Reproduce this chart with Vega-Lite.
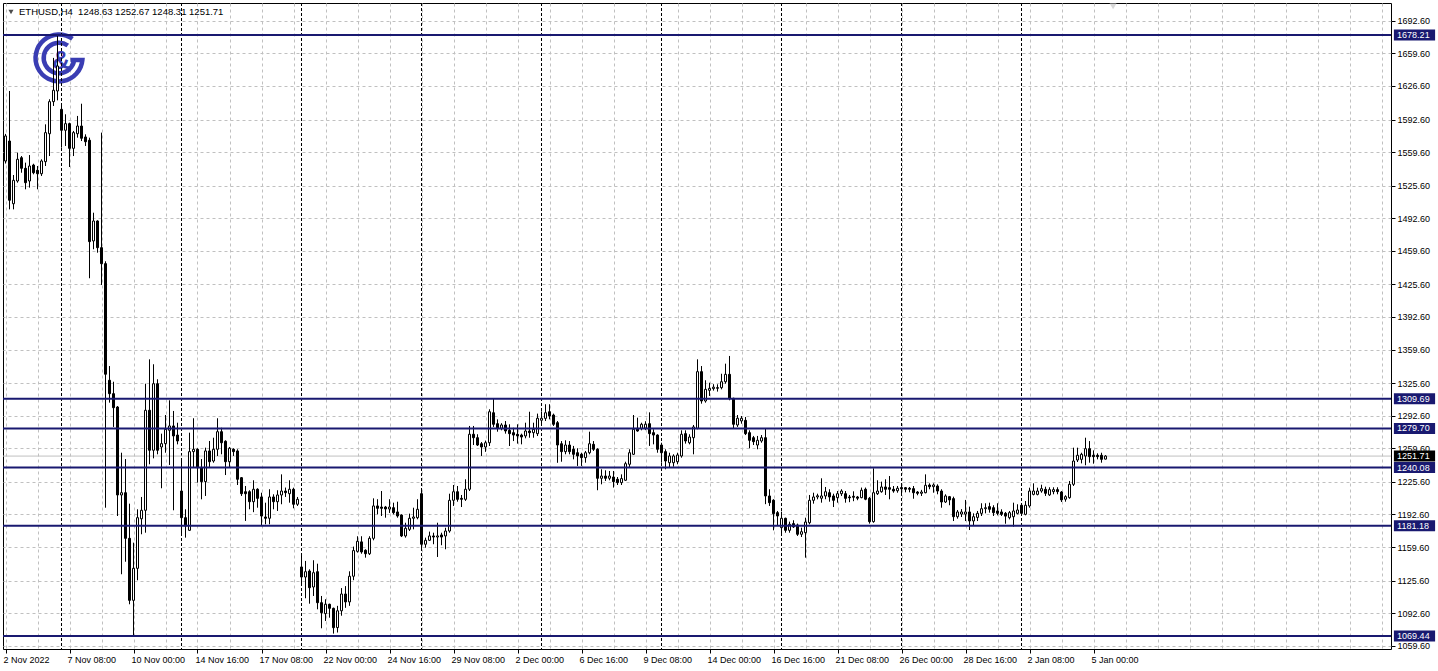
{
"$schema": "https://vega.github.io/schema/vega-lite/v6.json",
"width": 1388, "height": 646,
"padding": {"left": 2, "top": 2, "right": 0, "bottom": 0},
"background": "#ffffff",
"config": {"view": {"stroke": "#000000", "strokeWidth": 1}, "font": "Liberation Sans", "scale": {"continuousPadding": 0}, "axis": {"labelOverlap": false, "labelFlush": false, "title": null}},
"datasets": {
"candles": [
{"i":0,"o":1550.6,"h":1578,"l":1548,"c":1575.9},
{"i":1,"o":1570.8,"h":1621.5,"l":1501.6,"c":1510.8},
{"i":2,"o":1507.3,"h":1536.4,"l":1501.6,"c":1531.0},
{"i":3,"o":1530.3,"h":1559.0,"l":1528.6,"c":1552.3},
{"i":4,"o":1553.9,"h":1555.6,"l":1538.7,"c":1543.2},
{"i":5,"o":1543.2,"h":1548.9,"l":1521.9,"c":1528.6},
{"i":6,"o":1530.3,"h":1556.6,"l":1523.6,"c":1545.5},
{"i":7,"o":1546.5,"h":1547.8,"l":1537.1,"c":1538.7},
{"i":8,"o":1541.2,"h":1545.5,"l":1521.9,"c":1537.7},
{"i":9,"o":1537.7,"h":1552.3,"l":1535.4,"c":1550.6},
{"i":10,"o":1549.9,"h":1587.7,"l":1545.5,"c":1579.3},
{"i":11,"o":1578.2,"h":1613.1,"l":1555.6,"c":1610.7},
{"i":12,"o":1610.7,"h":1655.0,"l":1606.3,"c":1622.2},
{"i":13,"o":1621.5,"h":1678.2,"l":1612.0,"c":1646.8},
{"i":14,"o":1602.9,"h":1606.3,"l":1564.1,"c":1581.7},
{"i":15,"o":1581.7,"h":1597.9,"l":1565.8,"c":1588.4},
{"i":16,"o":1588.4,"h":1589.4,"l":1544.5,"c":1563.4},
{"i":17,"o":1563.4,"h":1581.0,"l":1555.6,"c":1579.3},
{"i":18,"o":1578.2,"h":1596.2,"l":1574.2,"c":1586.0},
{"i":19,"o":1586.0,"h":1608.6,"l":1570.8,"c":1573.6},
{"i":20,"o":1574.9,"h":1577.6,"l":1565.8,"c":1570.1},
{"i":21,"o":1571.6,"h":1574.2,"l":1431.8,"c":1468.9},
{"i":22,"o":1469.6,"h":1498.2,"l":1461.2,"c":1489.8},
{"i":23,"o":1489.8,"h":1490.5,"l":1457.7,"c":1462.8},
{"i":24,"o":1462.8,"h":1579.3,"l":1425.0,"c":1446.6},
{"i":25,"o":1446.6,"h":1449.0,"l":1199.4,"c":1334.6},
{"i":26,"o":1328.5,"h":1342.9,"l":1305.8,"c":1314.9},
{"i":27,"o":1314.9,"h":1327.0,"l":1281.2,"c":1300.7},
{"i":28,"o":1301.4,"h":1302.4,"l":1191.0,"c":1212.3},
{"i":29,"o":1212.3,"h":1255.1,"l":1132.0,"c":1214.6},
{"i":30,"o":1214.6,"h":1248.7,"l":1144.7,"c":1168.4},
{"i":31,"o":1168.4,"h":1203.5,"l":1101.6,"c":1105.6},
{"i":32,"o":1105.6,"h":1164.0,"l":1069.5,"c":1138.0},
{"i":33,"o":1138.0,"h":1197.8,"l":1125.9,"c":1189.3},
{"i":34,"o":1188.2,"h":1210.3,"l":1172.5,"c":1196.8},
{"i":35,"o":1196.8,"h":1325.0,"l":1174.1,"c":1298.1},
{"i":36,"o":1298.1,"h":1349.7,"l":1243.4,"c":1257.6},
{"i":37,"o":1257.6,"h":1344.7,"l":1249.4,"c":1325.0},
{"i":38,"o":1325.0,"h":1329.5,"l":1253.5,"c":1257.6},
{"i":39,"o":1260.9,"h":1274.4,"l":1219.1,"c":1264.3},
{"i":40,"o":1264.3,"h":1293.3,"l":1255.1,"c":1278.8},
{"i":41,"o":1277.8,"h":1308.2,"l":1242.7,"c":1282.2},
{"i":42,"o":1282.2,"h":1297.4,"l":1196.8,"c":1272.1},
{"i":43,"o":1273.0,"h":1285.5,"l":1263.6,"c":1267.0},
{"i":44,"o":1216.3,"h":1246.7,"l":1172.5,"c":1189.3},
{"i":45,"o":1189.3,"h":1197.8,"l":1169.1,"c":1180.9},
{"i":46,"o":1176.5,"h":1275.4,"l":1175.8,"c":1256.2},
{"i":47,"o":1256.2,"h":1290.0,"l":1240.7,"c":1258.6},
{"i":48,"o":1258.6,"h":1259.6,"l":1224.8,"c":1239.9},
{"i":49,"o":1239.9,"h":1248.7,"l":1207.9,"c":1225.8},
{"i":50,"o":1225.8,"h":1260.2,"l":1211.3,"c":1256.9},
{"i":51,"o":1256.9,"h":1267.0,"l":1240.7,"c":1246.0},
{"i":52,"o":1246.7,"h":1270.3,"l":1245.0,"c":1258.6},
{"i":53,"o":1258.6,"h":1290.0,"l":1251.8,"c":1276.4},
{"i":54,"o":1276.4,"h":1280.4,"l":1253.5,"c":1265.2},
{"i":55,"o":1266.7,"h":1267.7,"l":1232.5,"c":1246.0},
{"i":56,"o":1246.0,"h":1260.9,"l":1240.7,"c":1259.6},
{"i":57,"o":1258.6,"h":1259.6,"l":1251.8,"c":1256.2},
{"i":58,"o":1256.9,"h":1258.6,"l":1222.4,"c":1228.2},
{"i":59,"o":1229.8,"h":1230.5,"l":1211.3,"c":1213.6},
{"i":60,"o":1215.6,"h":1221.4,"l":1186.0,"c":1213.6},
{"i":61,"o":1215.6,"h":1217.1,"l":1197.8,"c":1205.5},
{"i":62,"o":1205.5,"h":1227.2,"l":1194.9,"c":1218.1},
{"i":63,"o":1218.1,"h":1219.1,"l":1199.4,"c":1208.9},
{"i":64,"o":1210.3,"h":1214.6,"l":1180.9,"c":1191.0},
{"i":65,"o":1190.0,"h":1204.5,"l":1182.6,"c":1188.7},
{"i":66,"o":1188.7,"h":1218.1,"l":1182.6,"c":1210.3},
{"i":67,"o":1210.3,"h":1213.0,"l":1197.8,"c":1205.5},
{"i":68,"o":1205.5,"h":1217.1,"l":1196.1,"c":1212.3},
{"i":69,"o":1212.3,"h":1233.2,"l":1202.9,"c":1216.3},
{"i":70,"o":1216.3,"h":1219.8,"l":1210.3,"c":1214.6},
{"i":71,"o":1213.6,"h":1227.2,"l":1204.5,"c":1218.1},
{"i":72,"o":1218.1,"h":1219.7,"l":1198.8,"c":1202.9},
{"i":73,"o":1202.9,"h":1210.3,"l":1201.2,"c":1207.9},
{"i":74,"o":1139.4,"h":1152.8,"l":1121.8,"c":1129.2},
{"i":75,"o":1129.2,"h":1145.5,"l":1107.7,"c":1134.6},
{"i":76,"o":1135.3,"h":1137.0,"l":1102.2,"c":1118.4},
{"i":77,"o":1119.1,"h":1146.2,"l":1110.0,"c":1133.6},
{"i":78,"o":1134.6,"h":1142.7,"l":1096.5,"c":1103.2},
{"i":79,"o":1103.2,"h":1110.0,"l":1077.3,"c":1093.1},
{"i":80,"o":1092.1,"h":1106.7,"l":1084.7,"c":1101.6},
{"i":81,"o":1101.6,"h":1102.2,"l":1088.0,"c":1097.5},
{"i":82,"o":1097.5,"h":1098.2,"l":1071.9,"c":1077.9},
{"i":83,"o":1078.0,"h":1100.0,"l":1073.0,"c":1095.0},
{"i":84,"o":1095.0,"h":1118.0,"l":1090.0,"c":1112.0},
{"i":85,"o":1112.0,"h":1120.0,"l":1098.0,"c":1104.0},
{"i":86,"o":1104.0,"h":1135.0,"l":1100.0,"c":1130.0},
{"i":87,"o":1130.0,"h":1160.0,"l":1126.0,"c":1156.0},
{"i":88,"o":1155.2,"h":1170.5,"l":1153.9,"c":1165.4},
{"i":89,"o":1164.8,"h":1170.5,"l":1152.8,"c":1154.6},
{"i":90,"o":1156.3,"h":1157.3,"l":1148.8,"c":1152.8},
{"i":91,"o":1152.8,"h":1170.5,"l":1151.5,"c":1168.4},
{"i":92,"o":1168.4,"h":1208.9,"l":1166.4,"c":1201.2},
{"i":93,"o":1201.2,"h":1208.0,"l":1192.7,"c":1198.8},
{"i":94,"o":1200.1,"h":1216.3,"l":1191.0,"c":1198.8},
{"i":95,"o":1200.1,"h":1201.2,"l":1189.3,"c":1198.1},
{"i":96,"o":1198.1,"h":1208.0,"l":1194.1,"c":1200.1},
{"i":97,"o":1199.4,"h":1204.5,"l":1192.7,"c":1194.4},
{"i":98,"o":1195.1,"h":1205.5,"l":1189.3,"c":1191.0},
{"i":99,"o":1192.0,"h":1192.7,"l":1169.7,"c":1170.8},
{"i":100,"o":1170.8,"h":1184.2,"l":1169.1,"c":1178.6},
{"i":101,"o":1177.5,"h":1193.4,"l":1175.8,"c":1188.7},
{"i":102,"o":1188.7,"h":1199.4,"l":1177.5,"c":1190.0},
{"i":103,"o":1189.3,"h":1208.0,"l":1187.7,"c":1197.8},
{"i":104,"o":1213.6,"h":1218.1,"l":1155.6,"c":1162.4},
{"i":105,"o":1162.4,"h":1169.1,"l":1158.9,"c":1166.4},
{"i":106,"o":1166.4,"h":1175.2,"l":1165.7,"c":1170.8},
{"i":107,"o":1170.8,"h":1174.1,"l":1162.4,"c":1169.7},
{"i":108,"o":1169.7,"h":1184.2,"l":1149.5,"c":1170.8},
{"i":109,"o":1171.8,"h":1174.1,"l":1161.4,"c":1169.7},
{"i":110,"o":1170.8,"h":1179.1,"l":1157.3,"c":1175.8},
{"i":111,"o":1175.8,"h":1213.6,"l":1174.1,"c":1206.9},
{"i":112,"o":1206.9,"h":1222.4,"l":1201.2,"c":1215.6},
{"i":113,"o":1215.6,"h":1221.4,"l":1205.5,"c":1207.9},
{"i":114,"o":1208.9,"h":1212.3,"l":1200.1,"c":1207.9},
{"i":115,"o":1207.9,"h":1228.2,"l":1206.3,"c":1218.1},
{"i":116,"o":1218.1,"h":1282.2,"l":1216.3,"c":1273.8},
{"i":117,"o":1273.8,"h":1282.2,"l":1262.9,"c":1270.3},
{"i":118,"o":1270.3,"h":1273.8,"l":1261.9,"c":1262.9},
{"i":119,"o":1264.2,"h":1265.9,"l":1251.8,"c":1260.9},
{"i":120,"o":1260.9,"h":1267.4,"l":1256.0,"c":1265.2},
{"i":121,"o":1265.2,"h":1299.1,"l":1261.9,"c":1296.6},
{"i":122,"o":1295.6,"h":1310.2,"l":1281.2,"c":1283.9},
{"i":123,"o":1284.5,"h":1288.9,"l":1276.4,"c":1279.8},
{"i":124,"o":1279.8,"h":1285.0,"l":1277.8,"c":1283.2},
{"i":125,"o":1283.2,"h":1287.2,"l":1274.4,"c":1277.1},
{"i":126,"o":1277.8,"h":1283.9,"l":1261.9,"c":1274.4},
{"i":127,"o":1275.4,"h":1280.4,"l":1266.9,"c":1273.0},
{"i":128,"o":1273.8,"h":1283.9,"l":1264.3,"c":1272.1},
{"i":129,"o":1273.0,"h":1274.4,"l":1263.6,"c":1271.0},
{"i":130,"o":1272.1,"h":1285.5,"l":1269.7,"c":1277.1},
{"i":131,"o":1277.1,"h":1296.6,"l":1270.3,"c":1275.4},
{"i":132,"o":1275.4,"h":1285.5,"l":1270.3,"c":1278.8},
{"i":133,"o":1274.4,"h":1294.7,"l":1272.0,"c":1290.0},
{"i":134,"o":1288.0,"h":1297.0,"l":1283.0,"c":1290.0},
{"i":135,"o":1289.9,"h":1304.2,"l":1287.2,"c":1295.6},
{"i":136,"o":1296.6,"h":1304.2,"l":1288.9,"c":1292.3},
{"i":137,"o":1293.3,"h":1294.7,"l":1282.2,"c":1283.9},
{"i":138,"o":1285.5,"h":1287.2,"l":1244.9,"c":1262.9},
{"i":139,"o":1264.2,"h":1266.9,"l":1246.0,"c":1256.2},
{"i":140,"o":1256.2,"h":1267.7,"l":1253.5,"c":1262.9},
{"i":141,"o":1262.9,"h":1266.9,"l":1253.5,"c":1256.2},
{"i":142,"o":1258.6,"h":1262.0,"l":1248.4,"c":1253.5},
{"i":143,"o":1255.1,"h":1259.6,"l":1241.7,"c":1251.8},
{"i":144,"o":1253.5,"h":1255.1,"l":1241.7,"c":1250.1},
{"i":145,"o":1250.1,"h":1256.9,"l":1245.0,"c":1255.1},
{"i":146,"o":1255.1,"h":1276.4,"l":1253.5,"c":1264.2},
{"i":147,"o":1263.6,"h":1266.9,"l":1256.9,"c":1258.6},
{"i":148,"o":1258.6,"h":1259.6,"l":1217.1,"c":1229.2},
{"i":149,"o":1229.2,"h":1238.3,"l":1223.1,"c":1231.5},
{"i":150,"o":1231.5,"h":1237.3,"l":1226.5,"c":1229.2},
{"i":151,"o":1229.2,"h":1236.6,"l":1227.2,"c":1231.5},
{"i":152,"o":1230.5,"h":1236.6,"l":1219.8,"c":1225.8},
{"i":153,"o":1228.2,"h":1230.5,"l":1222.4,"c":1224.8},
{"i":154,"o":1224.8,"h":1233.2,"l":1222.4,"c":1228.9},
{"i":155,"o":1227.2,"h":1246.0,"l":1226.5,"c":1244.0},
{"i":156,"o":1243.4,"h":1258.6,"l":1239.9,"c":1255.1},
{"i":157,"o":1253.5,"h":1293.3,"l":1252.8,"c":1278.8},
{"i":158,"o":1279.8,"h":1290.6,"l":1276.4,"c":1277.1},
{"i":159,"o":1279.8,"h":1285.5,"l":1277.8,"c":1283.9},
{"i":160,"o":1280.0,"h":1287.0,"l":1278.0,"c":1284.0},
{"i":161,"o":1284.5,"h":1296.0,"l":1262.0,"c":1274.4},
{"i":162,"o":1275.4,"h":1278.8,"l":1263.6,"c":1273.0},
{"i":163,"o":1273.0,"h":1273.8,"l":1255.1,"c":1258.6},
{"i":164,"o":1262.9,"h":1265.2,"l":1245.0,"c":1255.1},
{"i":165,"o":1256.2,"h":1258.6,"l":1238.3,"c":1246.7},
{"i":166,"o":1245.0,"h":1255.1,"l":1240.0,"c":1251.8},
{"i":167,"o":1245.0,"h":1253.5,"l":1241.0,"c":1251.8},
{"i":168,"o":1246.0,"h":1255.1,"l":1243.4,"c":1252.8},
{"i":169,"o":1251.8,"h":1277.8,"l":1250.1,"c":1273.8},
{"i":170,"o":1274.4,"h":1277.8,"l":1264.3,"c":1267.0},
{"i":171,"o":1265.2,"h":1273.8,"l":1263.6,"c":1271.0},
{"i":172,"o":1270.3,"h":1283.2,"l":1253.5,"c":1281.2},
{"i":173,"o":1279.8,"h":1349.7,"l":1278.8,"c":1337.2},
{"i":174,"o":1337.2,"h":1342.9,"l":1304.8,"c":1307.5},
{"i":175,"o":1307.5,"h":1328.5,"l":1305.8,"c":1319.3},
{"i":176,"o":1318.3,"h":1326.0,"l":1312.6,"c":1320.3},
{"i":177,"o":1320.0,"h":1324.5,"l":1318.0,"c":1321.5},
{"i":178,"o":1321.0,"h":1324.4,"l":1317.0,"c":1320.4},
{"i":179,"o":1321.0,"h":1335.1,"l":1319.3,"c":1327.0},
{"i":180,"o":1327.0,"h":1345.3,"l":1325.0,"c":1334.5},
{"i":181,"o":1334.5,"h":1353.1,"l":1308.2,"c":1310.2},
{"i":182,"o":1310.2,"h":1310.8,"l":1279.8,"c":1283.9},
{"i":183,"o":1283.2,"h":1293.3,"l":1281.2,"c":1290.0},
{"i":184,"o":1287.3,"h":1292.3,"l":1284.5,"c":1290.0},
{"i":185,"o":1287.9,"h":1291.3,"l":1273.0,"c":1274.4},
{"i":186,"o":1275.4,"h":1277.8,"l":1259.6,"c":1267.7},
{"i":187,"o":1270.3,"h":1272.1,"l":1262.9,"c":1266.3},
{"i":188,"o":1262.9,"h":1272.1,"l":1258.6,"c":1267.7},
{"i":189,"o":1267.0,"h":1273.0,"l":1265.2,"c":1270.3},
{"i":190,"o":1270.3,"h":1279.8,"l":1203.0,"c":1211.3},
{"i":191,"o":1211.3,"h":1218.1,"l":1201.2,"c":1204.5},
{"i":192,"o":1207.0,"h":1208.0,"l":1176.5,"c":1193.4},
{"i":193,"o":1194.4,"h":1196.1,"l":1180.9,"c":1191.0},
{"i":194,"o":1179.2,"h":1195.4,"l":1170.8,"c":1188.7},
{"i":195,"o":1188.7,"h":1189.3,"l":1174.1,"c":1176.5},
{"i":196,"o":1176.5,"h":1185.3,"l":1174.1,"c":1182.6},
{"i":197,"o":1183.3,"h":1186.7,"l":1178.9,"c":1179.9},
{"i":198,"o":1181.9,"h":1183.3,"l":1170.8,"c":1172.5},
{"i":199,"o":1172.5,"h":1179.2,"l":1169.7,"c":1175.1},
{"i":200,"o":1174.1,"h":1189.3,"l":1148.8,"c":1184.9},
{"i":201,"o":1184.2,"h":1212.3,"l":1182.6,"c":1206.9},
{"i":202,"o":1206.9,"h":1214.6,"l":1203.5,"c":1210.3},
{"i":203,"o":1210.3,"h":1213.6,"l":1207.9,"c":1211.5},
{"i":204,"o":1209.0,"h":1229.2,"l":1204.5,"c":1211.3},
{"i":205,"o":1211.3,"h":1220.4,"l":1208.0,"c":1215.6},
{"i":206,"o":1214.6,"h":1218.1,"l":1205.5,"c":1210.3},
{"i":207,"o":1211.3,"h":1213.6,"l":1200.1,"c":1206.9},
{"i":208,"o":1209.6,"h":1216.3,"l":1204.5,"c":1213.6},
{"i":209,"o":1213.6,"h":1218.1,"l":1211.3,"c":1216.3},
{"i":210,"o":1213.6,"h":1216.3,"l":1204.5,"c":1208.9},
{"i":211,"o":1210.3,"h":1212.3,"l":1205.0,"c":1209.5},
{"i":212,"o":1211.0,"h":1216.0,"l":1206.0,"c":1210.0},
{"i":213,"o":1210.3,"h":1211.3,"l":1207.0,"c":1209.0},
{"i":214,"o":1209.6,"h":1219.8,"l":1209.0,"c":1217.1},
{"i":215,"o":1218.1,"h":1219.8,"l":1207.0,"c":1208.0},
{"i":216,"o":1208.9,"h":1210.3,"l":1183.3,"c":1185.3},
{"i":217,"o":1185.3,"h":1239.3,"l":1184.2,"c":1214.6},
{"i":218,"o":1213.6,"h":1227.2,"l":1212.3,"c":1216.3},
{"i":219,"o":1215.6,"h":1225.8,"l":1214.6,"c":1220.4},
{"i":220,"o":1220.4,"h":1228.2,"l":1212.3,"c":1218.1},
{"i":221,"o":1219.7,"h":1231.5,"l":1207.9,"c":1218.1},
{"i":222,"o":1218.1,"h":1221.4,"l":1214.6,"c":1216.3},
{"i":223,"o":1216.6,"h":1221.4,"l":1214.6,"c":1219.1},
{"i":224,"o":1219.8,"h":1221.4,"l":1212.3,"c":1218.5},
{"i":225,"o":1219.7,"h":1220.4,"l":1215.0,"c":1218.1},
{"i":226,"o":1219.1,"h":1220.4,"l":1215.0,"c":1218.1},
{"i":227,"o":1218.7,"h":1221.4,"l":1208.5,"c":1214.6},
{"i":228,"o":1215.3,"h":1216.3,"l":1212.0,"c":1214.0},
{"i":229,"o":1214.0,"h":1217.5,"l":1211.3,"c":1215.3},
{"i":230,"o":1214.6,"h":1233.2,"l":1214.0,"c":1222.1},
{"i":231,"o":1222.4,"h":1224.1,"l":1218.1,"c":1220.7},
{"i":232,"o":1220.7,"h":1224.1,"l":1214.6,"c":1222.4},
{"i":233,"o":1221.4,"h":1223.1,"l":1213.0,"c":1216.3},
{"i":234,"o":1216.3,"h":1218.1,"l":1199.4,"c":1205.2},
{"i":235,"o":1205.2,"h":1213.0,"l":1204.2,"c":1211.3},
{"i":236,"o":1210.6,"h":1211.3,"l":1201.9,"c":1207.3},
{"i":237,"o":1208.6,"h":1210.6,"l":1185.9,"c":1190.3},
{"i":238,"o":1190.3,"h":1197.1,"l":1188.3,"c":1195.1},
{"i":239,"o":1193.0,"h":1198.0,"l":1190.0,"c":1195.1},
{"i":240,"o":1193.0,"h":1207.3,"l":1185.9,"c":1195.1},
{"i":241,"o":1195.1,"h":1200.5,"l":1176.8,"c":1186.0},
{"i":242,"o":1186.0,"h":1193.7,"l":1180.9,"c":1190.3},
{"i":243,"o":1189.6,"h":1196.1,"l":1185.9,"c":1193.7},
{"i":244,"o":1193.7,"h":1203.9,"l":1191.0,"c":1198.4},
{"i":245,"o":1198.4,"h":1203.9,"l":1193.7,"c":1199.4},
{"i":246,"o":1200.5,"h":1204.5,"l":1194.4,"c":1197.8},
{"i":247,"o":1199.4,"h":1201.9,"l":1191.0,"c":1194.4},
{"i":248,"o":1196.1,"h":1203.9,"l":1191.7,"c":1193.7},
{"i":249,"o":1195.1,"h":1197.8,"l":1191.0,"c":1192.7},
{"i":250,"o":1193.7,"h":1195.1,"l":1183.2,"c":1190.9},
{"i":251,"o":1189.3,"h":1196.1,"l":1187.6,"c":1194.4},
{"i":252,"o":1190.3,"h":1204.5,"l":1180.2,"c":1196.1},
{"i":253,"o":1193.7,"h":1202.9,"l":1192.7,"c":1197.1},
{"i":254,"o":1201.9,"h":1203.9,"l":1192.7,"c":1193.7},
{"i":255,"o":1192.7,"h":1206.2,"l":1191.7,"c":1201.9},
{"i":256,"o":1201.2,"h":1219.7,"l":1199.4,"c":1216.3},
{"i":257,"o":1212.9,"h":1224.1,"l":1211.9,"c":1216.3},
{"i":258,"o":1212.9,"h":1219.7,"l":1211.9,"c":1216.3},
{"i":259,"o":1216.3,"h":1222.7,"l":1214.6,"c":1218.7},
{"i":260,"o":1218.0,"h":1220.7,"l":1211.3,"c":1214.0},
{"i":261,"o":1212.4,"h":1220.1,"l":1211.3,"c":1217.7},
{"i":262,"o":1215.7,"h":1220.1,"l":1213.0,"c":1217.7},
{"i":263,"o":1217.7,"h":1220.1,"l":1213.0,"c":1215.7},
{"i":264,"o":1215.3,"h":1216.3,"l":1205.2,"c":1207.3},
{"i":265,"o":1208.0,"h":1212.0,"l":1205.5,"c":1210.6},
{"i":266,"o":1209.6,"h":1226.5,"l":1208.5,"c":1223.1},
{"i":267,"o":1223.1,"h":1260.2,"l":1221.4,"c":1246.7},
{"i":268,"o":1247.7,"h":1260.2,"l":1245.7,"c":1252.5},
{"i":269,"o":1248.4,"h":1255.1,"l":1244.3,"c":1253.5},
{"i":270,"o":1251.8,"h":1270.3,"l":1242.4,"c":1259.2},
{"i":271,"o":1259.2,"h":1266.9,"l":1245.0,"c":1251.1},
{"i":272,"o":1252.5,"h":1257.5,"l":1244.0,"c":1251.1},
{"i":273,"o":1252.5,"h":1254.5,"l":1248.4,"c":1251.1},
{"i":274,"o":1252.5,"h":1255.1,"l":1245.0,"c":1248.4},
{"i":275,"o":1248.63,"h":1252.67,"l":1248.31,"c":1251.71}
],
"levels": [{"p":1678.21},{"p":1309.69},{"p":1279.70},{"p":1240.08},{"p":1181.18},{"p":1069.44}],
"bid": [{"p":1251.71}],
"seps": [{"i":14},{"i":44},{"i":74},{"i":104},{"i":134},{"i":164},{"i":194},{"i":224},{"i":254}]
},
"layer": [
{"data":{"name":"candles"},
 "mark":{"type":"rule","stroke":"#000000","strokeWidth":1,"opacity":0},
 "encoding":{
  "x":{"field":"i","type":"quantitative","scale":{"domain":[-0.625,346.375],"nice":false,"zero":false,"padding":0},
       "axis":{"title":null,"domain":false,"tickCount":200,"values":[0,8,16,24,32,40,48,56,64,72,80,88,96,104,112,120,128,136,144,152,160,168,176,184,192,200,208,216,224,232,240,248,256,264,272,280,288,296,304,312,320,328,336,344],
               "grid":true,"gridColor":"#c0c0c0","gridDash":[3,3],"gridWidth":1,
               "ticks":true,"tickSize":4,"tickColor":"#000000","tickWidth":1,
               "tickOpacity":{"condition":{"test":"datum.value % 16 === 0 && datum.value <= 272","value":1},"value":0},
               "labelExpr":"(datum.value % 16 === 0 && datum.value <= 272) ? ['2 Nov 2022','7 Nov 08:00','10 Nov 00:00','14 Nov 16:00','17 Nov 08:00','22 Nov 00:00','24 Nov 16:00','29 Nov 08:00','2 Dec 00:00','6 Dec 16:00','9 Dec 08:00','14 Dec 00:00','16 Dec 16:00','21 Dec 08:00','26 Dec 00:00','28 Dec 16:00','2 Jan 08:00','5 Jan 00:00'][datum.value / 16] : ''",
               "labelAlign":"left","labelOffset":-2.5,"labelPadding":2,"labelFlush":false,"labelOverlap":false,
               "labelFont":"Liberation Sans","labelFontSize":9,"labelColor":"#000000"}},
  "y":{"field":"l","type":"quantitative","scale":{"domain":[1056.3,1710.6],"nice":false,"zero":false,"padding":0},
       "axis":{"title":null,"orient":"right","domain":false,"tickCount":200,
               "values":[1059.6,1092.6,1125.6,1159.6,1192.6,1225.6,1259.6,1292.6,1325.6,1359.6,1392.6,1425.6,1459.6,1492.6,1525.6,1559.6,1592.6,1626.6,1659.6,1692.6],
               "format":".2f","grid":true,"gridColor":"#c0c0c0","gridDash":[3,3],"gridWidth":1,
               "ticks":true,"tickSize":4,"tickColor":"#000000","tickWidth":1,
               "labelPadding":2,"labelFont":"Liberation Sans","labelFontSize":9,"labelColor":"#000000","labelFlush":false,"labelOverlap":false,"labelBound":false}},
  "y2":{"field":"h"}}},
{"data":{"values":[{}]},
 "mark":{"type":"point","shape":"M0.528,-0.754A0.92,0.92,0,1,0,0.917,0.08L0.45,0.08M0.344,-0.491A0.6,0.6,0,1,0,0.6,0","filled":false,"stroke":"#3a3db3","strokeWidth":4.5,"size":2600,"opacity":1},
 "encoding":{"x":{"datum":13.375,"type":"quantitative","scale":{"domain":[-0.625,346.375],"nice":false,"zero":false,"padding":0},"axis":{"title":null,"tickCount":200}},
             "y":{"datum":1654.9,"type":"quantitative","scale":{"domain":[1056.3,1710.6],"nice":false,"zero":false,"padding":0},"axis":{"title":null,"tickCount":200}}}},
{"data":{"values":[{}]},
 "mark":{"type":"text","text":"&","fontSize":25,"fontWeight":"bold","fill":"#3a3db3","align":"center","baseline":"middle","font":"Liberation Sans"},
 "encoding":{"x":{"datum":13.9,"type":"quantitative","scale":{"domain":[-0.625,346.375],"nice":false,"zero":false,"padding":0},"axis":{"title":null,"tickCount":200}},
             "y":{"datum":1651.5,"type":"quantitative","scale":{"domain":[1056.3,1710.6],"nice":false,"zero":false,"padding":0},"axis":{"title":null,"tickCount":200}}}},
{"data":{"name":"seps"},
 "mark":{"type":"rule","stroke":"#000000","strokeWidth":1,"strokeDash":[3,2]},
 "encoding":{"x":{"field":"i","type":"quantitative","scale":{"domain":[-0.625,346.375],"nice":false,"zero":false,"padding":0},"axis":{"title":null,"tickCount":200}}}},
{"data":{"name":"bid"},
 "mark":{"type":"rule","stroke":"#c0c0c0","strokeWidth":1},
 "encoding":{"y":{"field":"p","type":"quantitative","scale":{"domain":[1056.3,1710.6],"nice":false,"zero":false,"padding":0},"axis":{"title":null,"tickCount":200}}}},
{"data":{"name":"candles"},
 "mark":{"type":"rule","stroke":"#000000","strokeWidth":1},
 "encoding":{
  "x":{"field":"i","type":"quantitative","scale":{"domain":[-0.625,346.375],"nice":false,"zero":false,"padding":0},"axis":{"title":null,"tickCount":200}},
  "y":{"field":"l","type":"quantitative","scale":{"domain":[1056.3,1710.6],"nice":false,"zero":false,"padding":0},"axis":{"title":null,"tickCount":200}},
  "y2":{"field":"h"}}},
{"data":{"name":"candles"},
 "mark":{"type":"bar","size":2,"stroke":"#000000","strokeWidth":1},
 "encoding":{
  "x":{"field":"i","type":"quantitative","scale":{"domain":[-0.625,346.375],"nice":false,"zero":false,"padding":0},"axis":{"title":null,"tickCount":200}},
  "y":{"field":"o","type":"quantitative","scale":{"domain":[1056.3,1710.6],"nice":false,"zero":false,"padding":0},"axis":{"title":null,"tickCount":200}},
  "y2":{"field":"c"},
  "fill":{"condition":{"test":"datum.c >= datum.o","value":"#ffffff"},"value":"#000000"}}},
{"data":{"name":"levels"},
 "mark":{"type":"rule","stroke":"#191970","strokeWidth":2},
 "encoding":{"y":{"field":"p","type":"quantitative","scale":{"domain":[1056.3,1710.6],"nice":false,"zero":false,"padding":0},"axis":{"title":null,"tickCount":200}}}},
{"data":{"values":[{}]},
 "mark":{"type":"point","shape":"triangle-down","filled":true,"fill":"#000000","size":26,"strokeWidth":0},
 "encoding":{"x":{"datum":1.375,"type":"quantitative","scale":{"domain":[-0.625,346.375],"nice":false,"zero":false,"padding":0},"axis":{"title":null,"tickCount":200}},
             "y":{"datum":1701.5,"type":"quantitative","scale":{"domain":[1056.3,1710.6],"nice":false,"zero":false,"padding":0},"axis":{"title":null,"tickCount":200}}}},
{"data":{"values":[{}]},
 "mark":{"type":"point","shape":"triangle-down","filled":true,"fill":"#c8c8c8","size":50,"strokeWidth":0},
 "encoding":{"x":{"datum":276.9,"type":"quantitative","scale":{"domain":[-0.625,346.375],"nice":false,"zero":false,"padding":0},"axis":{"title":null,"tickCount":200}},
             "y":{"datum":1707.3,"type":"quantitative","scale":{"domain":[1056.3,1710.6],"nice":false,"zero":false,"padding":0},"axis":{"title":null,"tickCount":200}}}},
{"data":{"values":[{}]},
 "mark":{"type":"text","text":"ETHUSD,H4\u00a0\u00a01248.63 1252.67 1248.31 1251.71","align":"left","baseline":"middle","fontSize":9.5,"fill":"#000000","font":"Liberation Sans"},
 "encoding":{"x":{"datum":3.375,"type":"quantitative","scale":{"domain":[-0.625,346.375],"nice":false,"zero":false,"padding":0},"axis":{"title":null,"tickCount":200}},
             "y":{"datum":1701.8,"type":"quantitative","scale":{"domain":[1056.3,1710.6],"nice":false,"zero":false,"padding":0},"axis":{"title":null,"tickCount":200}}}},
{"data":{"name":"levels"},
 "mark":{"type":"bar","size":11,"fill":"#191970"},
 "encoding":{"x":{"datum":347.1,"type":"quantitative","scale":{"domain":[-0.625,346.375],"nice":false,"zero":false,"padding":0},"axis":{"title":null,"tickCount":200}},
             "x2":{"datum":357.4},
             "y":{"field":"p","type":"quantitative","scale":{"domain":[1056.3,1710.6],"nice":false,"zero":false,"padding":0},"axis":{"title":null,"tickCount":200}}}},
{"data":{"name":"levels"},
 "mark":{"type":"text","align":"left","baseline":"middle","fontSize":9,"fill":"#ffffff","font":"Liberation Sans"},
 "encoding":{"x":{"datum":347.9,"type":"quantitative","scale":{"domain":[-0.625,346.375],"nice":false,"zero":false,"padding":0},"axis":{"title":null,"tickCount":200}},
             "y":{"field":"p","type":"quantitative","scale":{"domain":[1056.3,1710.6],"nice":false,"zero":false,"padding":0},"axis":{"title":null,"tickCount":200}},
             "text":{"field":"p","type":"quantitative","format":".2f"}}},
{"data":{"name":"bid"},
 "mark":{"type":"bar","size":11,"fill":"#000000"},
 "encoding":{"x":{"datum":347.1,"type":"quantitative","scale":{"domain":[-0.625,346.375],"nice":false,"zero":false,"padding":0},"axis":{"title":null,"tickCount":200}},
             "x2":{"datum":357.4},
             "y":{"field":"p","type":"quantitative","scale":{"domain":[1056.3,1710.6],"nice":false,"zero":false,"padding":0},"axis":{"title":null,"tickCount":200}}}},
{"data":{"name":"bid"},
 "mark":{"type":"text","align":"left","baseline":"middle","fontSize":9,"fill":"#ffffff","font":"Liberation Sans"},
 "encoding":{"x":{"datum":347.9,"type":"quantitative","scale":{"domain":[-0.625,346.375],"nice":false,"zero":false,"padding":0},"axis":{"title":null,"tickCount":200}},
             "y":{"field":"p","type":"quantitative","scale":{"domain":[1056.3,1710.6],"nice":false,"zero":false,"padding":0},"axis":{"title":null,"tickCount":200}},
             "text":{"field":"p","type":"quantitative","format":".2f"}}}
]
}
